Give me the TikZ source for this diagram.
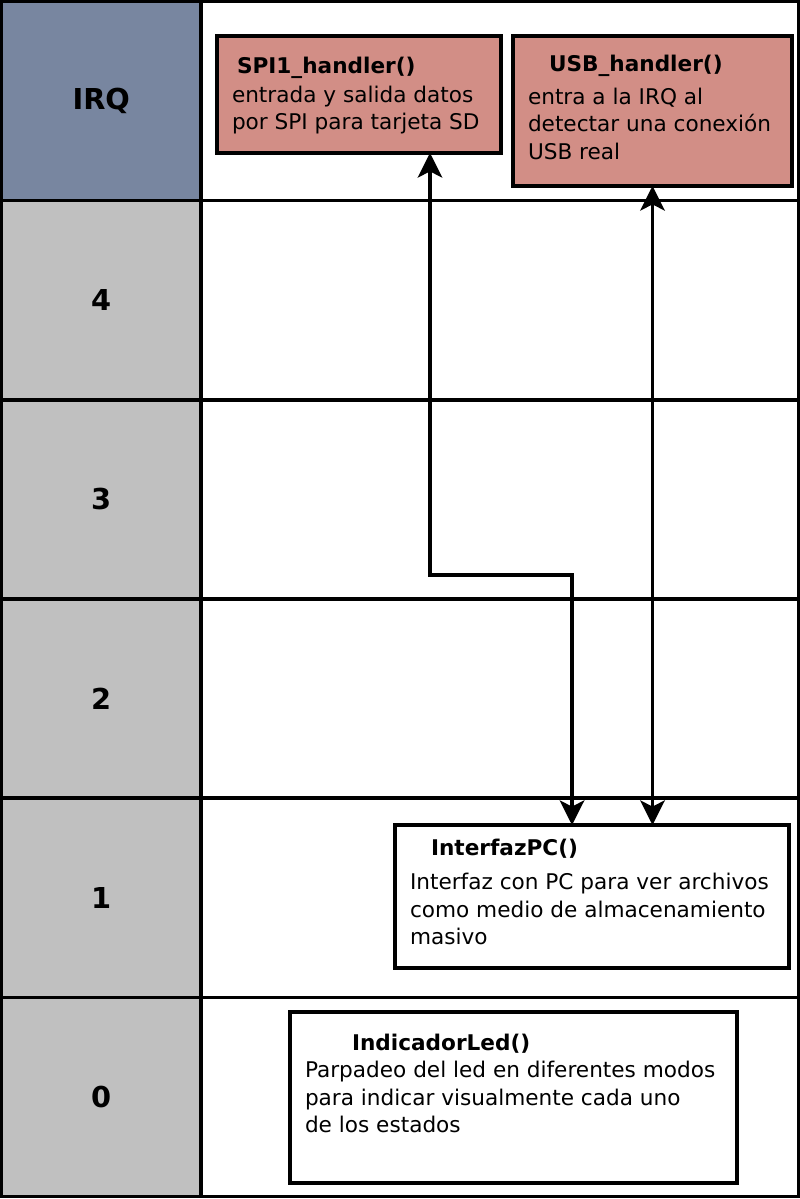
\documentclass[tikz,border=0pt]{standalone}
\usepackage{fontspec}
\setmainfont{DejaVu Sans}
\usetikzlibrary{arrows.meta}
\definecolor{irqblue}{HTML}{7886A0}
\definecolor{prio}{HTML}{C0C0C0}
\definecolor{handler}{HTML}{D28E86}

\begin{document}
\begin{tikzpicture}[x=0.02cm, y=-0.02cm, line width=2pt,
  every node/.style={inner sep=0pt, outer sep=0pt},
  level/.style={draw, minimum width=3.99cm, minimum height=3.983cm, font=\fontsize{16.4}{19}\selectfont\bfseries},
  task/.style={draw},
  title/.style={anchor=base west, font=\fontsize{12.3}{15.6}\selectfont\bfseries},
  desc/.style={anchor=base west, align=left, font=\fontsize{12.3}{15.65}\selectfont},
  link/.style={line width=1.8pt, arrows={Stealth[length=14pt,width=14pt,inset=3.5pt]-Stealth[length=14pt,width=14pt,inset=3.5pt]}}]
\useasboundingbox (0,0) rectangle (800,1199);

% priority column
\node[level, fill=irqblue] (irq) at (101.25,101.1) {IRQ};
\foreach \n [count=\i] in {4,3,2,1,0}
  \node[level, fill=prio] (lvl\n) at (101.25,101.1+199.17*\i) {\n};

% task column
\draw (201,1.5) rectangle (798.5,1196.5);
\foreach \i in {1,...,5}
  \draw (201,1.5+199.17*\i) -- (798.5,1.5+199.17*\i);

% handlers
\node[task, fill=handler, minimum width=5.68cm, minimum height=2.34cm] (spi) at (359,94.5) {};
\node[title] at (237,73.5) {SPI1\_handler()};
\node[desc] at (232,129.5) {entrada y salida datos\\por SPI para tarjeta SD};

\node[task, fill=handler, minimum width=5.58cm, minimum height=3cm] (usb) at (652.5,111) {};
\node[title] at (549,72) {USB\_handler()};
\node[desc] at (528,159.5) {entra a la IRQ al\\detectar una conexión\\USB real};

% tasks
\node[task, fill=white, minimum width=7.88cm, minimum height=2.86cm] (pc) at (592,896.5) {};
\node[title] at (431,855) {InterfazPC()};
\node[desc] at (410,944.5) {Interfaz con PC para ver archivos\\como medio de almacenamiento\\masivo};

\node[task, fill=white, minimum width=8.94cm, minimum height=3.42cm] (led) at (513.5,1097.5) {};
\node[title] at (352,1050.5) {IndicadorLed()};
\node[desc] at (305,1132.5) {Parpadeo del led en diferentes modos\\para indicar visualmente cada uno\\de los estados};

% links
\draw[link] ([xshift=1.42cm]spi.south) -- ++(0,422) -| ([xshift=-0.4cm]pc.north);
\draw[link] (usb.south) -- (usb.south |- pc.north);
\end{tikzpicture}
\end{document}
